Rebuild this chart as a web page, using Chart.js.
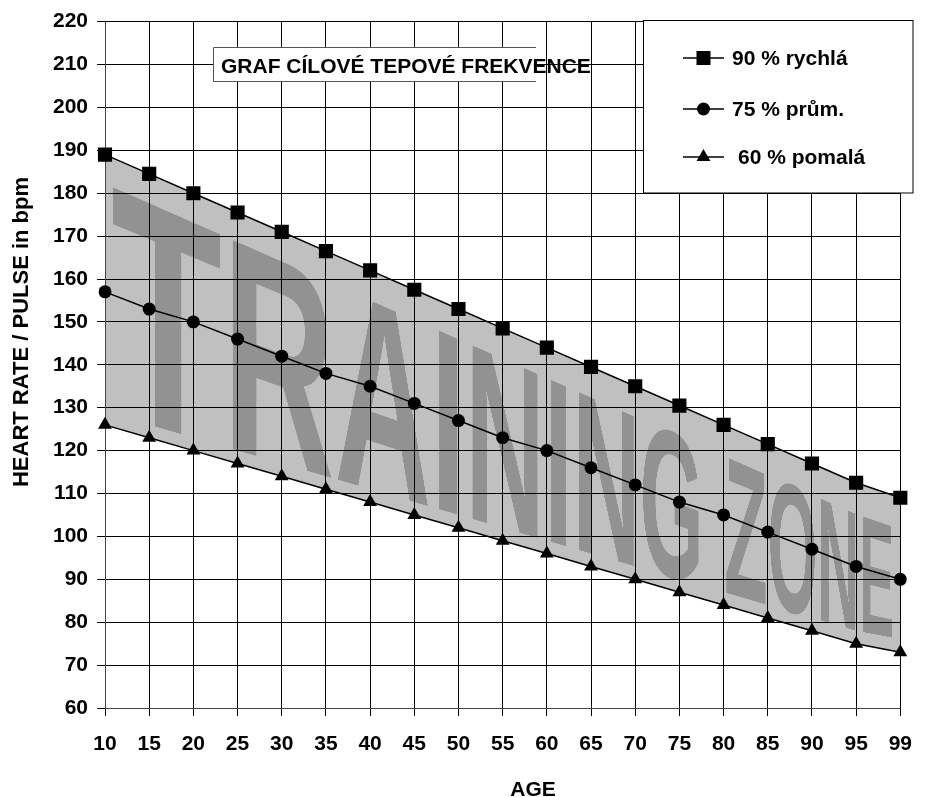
<!DOCTYPE html>
<html>
<head>
<meta charset="utf-8">
<script src="https://cdn.jsdelivr.net/npm/chart.js@4.4.1/dist/chart.umd.min.js"></script>
<style>
  html, body { margin: 0; padding: 0; background: #ffffff; }
  #wrap { width: 928px; height: 797px; position: relative; }
</style>
</head>
<body>
<div id="wrap"><canvas id="c" width="928" height="797"></canvas></div>
<script>
// ---- data ----
const ages = ['10','15','20','25','30','35','40','45','50','55','60','65','70','75','80','85','90','95','99'];
const fast90 = [189, 184.5, 180, 175.5, 171, 166.5, 162, 157.5, 153, 148.5, 144, 139.5, 135, 130.5, 126, 121.5, 117, 112.5, 109];
const mid75  = [157, 153, 150, 146, 142, 138, 135, 131, 127, 123, 120, 116, 112, 108, 105, 101, 97, 93, 90];
const slow60 = [126, 123, 120, 117, 114, 111, 108, 105, 102, 99, 96, 93, 90, 87, 84, 81, 78, 75, 73];
const yTickValues = [60, 70, 80, 90, 100, 110, 120, 130, 140, 150, 160, 170, 180, 190, 200, 210, 220];
const seriesLabels = ['90 % rychlá', '75 % prům.', '60 % pomalá'];
const chartTitle = 'GRAF CÍLOVÉ TEPOVÉ FREKVENCE';
const yTitle = 'HEART RATE / PULSE in bpm';
const xTitle = 'AGE';
const watermarkText = 'TRAINING ZONE';

const FONT = '"Liberation Sans", Arial, sans-serif';

// ---- watermark drawn in perspective inside the filled band ----
let wmCanvas = null;
const WM = { size: 500, capTop: 20 };
function buildWatermark() {
  const c = document.createElement('canvas');
  const t = c.getContext('2d');
  t.font = 'bold ' + WM.size + 'px ' + FONT;
  const w = Math.ceil(t.measureText(watermarkText).width);
  WM.capH = WM.size * 0.716;
  c.width = w;
  c.height = Math.ceil(WM.capTop + WM.capH + 20);
  t.font = 'bold ' + WM.size + 'px ' + FONT;
  t.fillStyle = '#929292';
  t.textBaseline = 'alphabetic';
  t.fillText(watermarkText, 0, WM.capTop + WM.capH);
  wmCanvas = c;
}
function interpY(pts, x) {
  for (let i = 0; i < pts.length - 1; i++) {
    if (x <= pts[i + 1].x) {
      const t = (x - pts[i].x) / (pts[i + 1].x - pts[i].x);
      return pts[i].y + t * (pts[i + 1].y - pts[i].y);
    }
  }
  return pts[pts.length - 1].y;
}
const watermarkPlugin = {
  id: 'watermark',
  beforeDraw(chart) {
    if (!wmCanvas) buildWatermark();
    const ctx = chart.ctx;
    const topPts = chart.getDatasetMeta(0).data;
    const botPts = chart.getDatasetMeta(2).data;
    const area = chart.chartArea;
    const xL = area.left + 6, xR = area.right - 6;
    const W = xR - xL;
    const c = 0.51;
    const f = v => v * c / (1 - v + v * c);
    const srcW = wmCanvas.width, srcH = wmCanvas.height;
    ctx.save();
    ctx.imageSmoothingEnabled = true;
    for (let x = Math.floor(xL); x < xR; x++) {
      const v0 = (x - xL) / W, v1 = (x + 1 - xL) / W;
      const u0 = f(Math.max(0, v0)), u1 = f(Math.min(1, v1));
      const sx = u0 * srcW, sw = Math.max(0.5, (u1 - u0) * srcW);
      const yt = interpY(topPts, x + 0.5) + 20 + 7 * v0;
      const yb = interpY(botPts, x + 0.5) - 13;
      const s = (yb - yt) / WM.capH;
      ctx.drawImage(wmCanvas, sx, 0, sw, srcH, x, yt - WM.capTop * s, 1, srcH * s);
    }
    ctx.restore();
  }
};

// ---- markers for legend ----
function marker(ctx, kind, x, y) {
  ctx.beginPath();
  if (kind === 'rect') {
    ctx.rect(x - 7, y - 7, 14, 14);
  } else if (kind === 'circle') {
    ctx.arc(x, y, 6.5, 0, Math.PI * 2);
  } else {
    const r = 8;
    ctx.moveTo(x, y - r);
    ctx.lineTo(x + r * 0.866, y + r / 2);
    ctx.lineTo(x - r * 0.866, y + r / 2);
    ctx.closePath();
  }
  ctx.fill();
}

const decorPlugin = {
  id: 'decor',
  afterDraw(chart) {
    const ctx = chart.ctx;
    ctx.save();
    // title box
    ctx.fillStyle = '#ffffff';
    ctx.fillRect(213, 47, 323, 35);
    ctx.strokeStyle = '#555555';
    ctx.lineWidth = 1;
    ctx.beginPath();
    ctx.moveTo(536, 47.5); ctx.lineTo(213.5, 47.5); ctx.lineTo(213.5, 81.5); ctx.lineTo(536, 81.5);
    ctx.stroke();
    ctx.fillStyle = '#000000';
    ctx.font = 'bold 21px ' + FONT;
    ctx.textBaseline = 'alphabetic';
    ctx.textAlign = 'left';
    ctx.fillText(chartTitle, 221, 73);

    // legend box
    ctx.fillStyle = '#ffffff';
    ctx.fillRect(643, 20, 270, 173);
    ctx.strokeStyle = '#000000';
    ctx.strokeRect(643.5, 20.5, 269.5, 172.5);
    const kinds = ['rect', 'circle', 'triangle'];
    const ys = [58, 109, 157];
    const tx = [732, 732, 738];
    ctx.font = 'bold 21px ' + FONT;
    for (let i = 0; i < 3; i++) {
      ctx.strokeStyle = '#000000';
      ctx.lineWidth = 1.5;
      ctx.beginPath();
      ctx.moveTo(683, ys[i]); ctx.lineTo(724, ys[i]);
      ctx.stroke();
      ctx.fillStyle = '#000000';
      marker(ctx, kinds[i], 703.5, ys[i]);
      ctx.textBaseline = 'middle';
      ctx.fillText(seriesLabels[i], tx[i], ys[i] + 1);
    }

    // axis titles
    ctx.fillStyle = '#000000';
    ctx.font = 'bold 21px ' + FONT;
    ctx.textAlign = 'center';
    ctx.textBaseline = 'alphabetic';
    ctx.fillText(xTitle, 533, 796);

    ctx.translate(28, 332);
    ctx.rotate(-Math.PI / 2);
    ctx.font = 'bold 22px ' + FONT;
    ctx.textAlign = 'center';
    ctx.textBaseline = 'alphabetic';
    ctx.fillText(yTitle, 0, 0);
    ctx.restore();
  }
};

const lineCommon = {
  borderColor: '#000000',
  borderWidth: 1.5,
  pointBackgroundColor: '#000000',
  pointBorderColor: '#000000',
  pointBorderWidth: 0,
  tension: 0
};

new Chart(document.getElementById('c'), {
  type: 'line',
  data: {
    labels: ages,
    datasets: [
      Object.assign({}, lineCommon, { label: seriesLabels[0], data: fast90, pointStyle: 'rect', pointRadius: 10, fill: 2, backgroundColor: '#c0c0c0' }),
      Object.assign({}, lineCommon, { label: seriesLabels[1], data: mid75, pointStyle: 'circle', pointRadius: 6.5, fill: false }),
      Object.assign({}, lineCommon, { label: seriesLabels[2], data: slow60, pointStyle: 'triangle', pointRadius: 8, fill: false })
    ]
  },
  options: {
    responsive: false,
    animation: false,
    devicePixelRatio: 1,
    layout: { padding: { left: 0, right: 15, top: 20, bottom: 0 } },
    plugins: {
      legend: { display: false },
      title: { display: false },
      tooltip: { enabled: false },
      filler: { drawTime: 'beforeDraw' }
    },
    scales: {
      x: {
        type: 'category',
        offset: false,
        grid: { color: '#000000', lineWidth: 1, offset: false, drawTicks: true, tickLength: 8, tickColor: '#000000' },
        border: { color: '#444444', width: 1 },
        ticks: { color: '#000000', font: { family: FONT, size: 21, weight: 'bold' }, padding: 16, autoSkip: false, maxRotation: 0 },
        afterFit(scale) { scale.height = 89; }
      },
      y: {
        min: 60,
        max: 220,
        afterBuildTicks(scale) { scale.ticks = yTickValues.map(v => ({ value: v })); },
        grid: { color: '#000000', lineWidth: 1, drawTicks: true, tickLength: 8, tickColor: '#000000' },
        border: { color: '#444444', width: 1 },
        ticks: { color: '#000000', font: { family: FONT, size: 21, weight: 'bold' }, padding: 9 },
        afterFit(scale) { scale.width = 105; }
      }
    }
  },
  plugins: [watermarkPlugin, decorPlugin]
});
</script>
</body>
</html>
